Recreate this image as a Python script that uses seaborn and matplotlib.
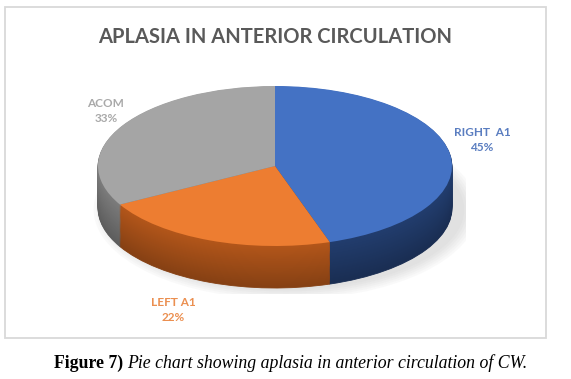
import numpy as np
import seaborn as sns
import matplotlib.pyplot as plt
from matplotlib.patches import Rectangle, Ellipse
from matplotlib.colors import to_rgb

# Data-
categories = ["RIGHT  A1", "LEFT A1", "ACOM"]
values = [45, 22, 33]
top_colors = ["#4472C4", "#ED7D31", "#A5A5A5"]
side_colors = ["#223d6e", "#b3561a", "#7c7c7c"]
label_colors = ["#5a7dc0", "#eb8f50", "#a9a9a9"]
title = "APLASIA IN ANTERIOR CIRCULATION"
caption_bold = "Figure 7)"
caption_rest = "Pie chart showing aplasia in anterior circulation of CW."

sns.set_theme(style="white")
plt.rcParams["font.family"] = ["Lato", "DejaVu Sans"]

W, H = 571, 379
fig = plt.figure(figsize=(W / 100, H / 100), dpi=100)
fig.patch.set_facecolor("white")


def fx(x):
    return x / W


def fy(y):
    return 1 - y / H


# chart frame
fig.patches.append(Rectangle((fx(5), fy(338)), fx(546) - fx(5), fy(7) - fy(338),
                             transform=fig.transFigure, fill=False,
                             edgecolor="#d9d9d9", linewidth=1.3))

# pie geometry (pixels)
cx, cy, rx, ry, depth = 275, 166, 177, 80, 42
depth_u = depth / ry
pad = 0.08
ax = fig.add_axes([fx(cx - (1 + pad) * rx), fy(cy + (1 + depth_u + pad) * ry),
                   2 * (1 + pad) * rx / W, (2 + 2 * pad + depth_u) * ry / H])

# soft shadow
for k in range(6):
    ax.add_patch(Ellipse((0.06, -depth_u - 0.02), 2.02 + 0.03 * k, 2.0 + 0.05 * k,
                         facecolor="#9a9a9a", alpha=0.05, linewidth=0))

# side of the 3D pie: stacked layers
n = 45
for i in range(n, 0, -1):
    f = 1 - 0.25 * (i / n)
    cols = [tuple(c * f for c in to_rgb(s)) for s in side_colors]
    ax.pie(values, colors=cols, startangle=90, counterclock=False,
           center=(0, -depth_u * i / n), radius=1,
           wedgeprops=dict(linewidth=0.6))
    for w, c in zip(ax.patches[-3:], cols):
        w.set_edgecolor(c)

# top face
wedges, _ = ax.pie(values, colors=top_colors, startangle=90, counterclock=False,
                   center=(0, 0), radius=1, wedgeprops=dict(linewidth=0))

ax.set_aspect("auto")
ax.set_xlim(-1 - pad, 1 + pad)
ax.set_ylim(-1 - depth_u - pad, 1 + pad)
ax.axis("off")

# data labels
label_pos = [(482, 140), (173, 310), (106, 111)]
for (x, y), name, v, c in zip(label_pos, categories, values, label_colors):
    fig.text(fx(x), fy(y), f"{name}\n{v}%", ha="center", va="center",
             color=c, fontsize=8.5, fontweight="bold", linespacing=1.5)

fig.text(fx(275), fy(37), title, ha="center", va="center",
         color="#595959", fontsize=14.5, fontweight="bold")

# caption
t1 = fig.text(fx(54), fy(363), caption_bold, ha="left", va="center",
              family="Liberation Serif", fontweight="bold", fontsize=12.8, color="black")
r = fig.canvas.get_renderer()
bb = t1.get_window_extent(renderer=r)
fig.text(bb.x1 / W + fx(4), fy(363), caption_rest, ha="left", va="center",
         family="Liberation Serif", style="italic", fontsize=12.8, color="black")

fig.savefig("out.png", dpi=100, facecolor="white")
